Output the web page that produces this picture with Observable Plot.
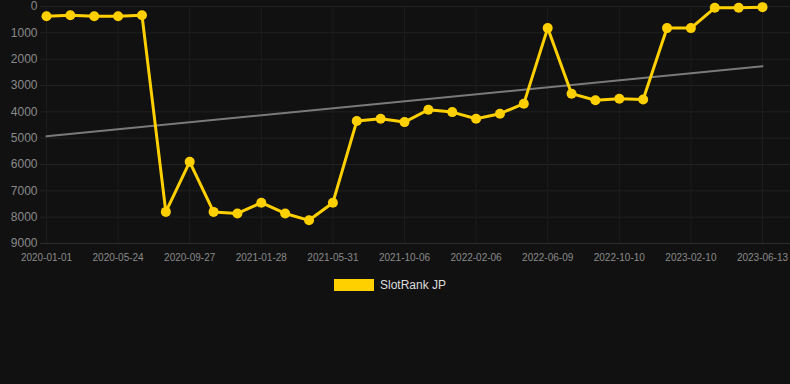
<!DOCTYPE html>
<html>
<head>
<meta charset="utf-8">
<script src="https://cdn.jsdelivr.net/npm/d3@7"></script>
<script src="https://cdn.jsdelivr.net/npm/@observablehq/plot@0.6"></script>
<style>
  html, body { margin: 0; padding: 0; background: #111111; width: 790px; height: 384px; overflow: hidden; }
  #chart svg { display: block; }
  .legend { display: flex; justify-content: center; align-items: center; margin-top: 8px; padding-right: 10px; font-family: Arial, "Liberation Sans", sans-serif; font-size: 12px; color: #dddddd; }
  .legend .sw { width: 40px; height: 12px; background: #FFD000; margin-right: 6px; }
</style>
</head>
<body>
<div id="chart"></div>
<div class="legend"><span class="sw"></span><span>SlotRank JP</span></div>
<script>
const tickLabels = ["2020-01-01","2020-05-24","2020-09-27","2021-01-28","2021-05-31","2021-10-06","2022-02-06","2022-06-09","2022-10-10","2023-02-10","2023-06-13"];
const rankValues = [370,330,370,370,330,7800,5900,7800,7860,7450,7860,8120,7450,4350,4260,4390,3920,4010,4260,4070,3690,820,3310,3560,3500,3530,820,820,50,50,25];
const trendValues = [4930, 2270];
const seriesName = "SlotRank JP";

const data = rankValues.map((v, i) => ({i, v}));
const trend = [{i: 0, v: trendValues[0]}, {i: rankValues.length - 1, v: trendValues[1]}];
const tickIdx = tickLabels.map((_, k) => k * 3);
const yTicks = d3.range(0, 9001, 1000);

const chart = Plot.plot({
  width: 790,
  height: 270,
  marginLeft: 40,
  marginRight: 0,
  marginTop: 6,
  marginBottom: 27,
  style: {background: "#111111", color: "#8a8a8a", fontFamily: "Arial, 'Liberation Sans', sans-serif"},
  x: {domain: [0, rankValues.length - 1], range: [46, 762], ticks: tickIdx, tickFormat: d => tickLabels[d / 3], tickSize: 0, tickPadding: 10, label: null},
  y: {domain: [0, 9000], reverse: true, ticks: yTicks, tickSize: 0, tickPadding: 3, label: null},
  marks: [
    Plot.gridY(yTicks.slice(0, -1), {stroke: "#222222", strokeOpacity: 1, strokeWidth: 1}),
    Plot.gridY([9000], {stroke: "#2c2c2c", strokeOpacity: 1, strokeWidth: 1}),
    Plot.gridX(tickIdx, {stroke: "#1d1d1d", strokeOpacity: 1, strokeWidth: 1}),
    Plot.axisY({ticks: yTicks, tickSize: 0, tickPadding: 3, fontSize: 12, fill: "#8a8a8a", tickFormat: d => String(d)}),
    Plot.axisX({ticks: tickIdx, tickFormat: d => tickLabels[d / 3], tickSize: 0, tickPadding: 10, fontSize: 10, fill: "#8a8a8a"}),
    Plot.line(trend, {x: "i", y: "v", stroke: "#7a7a7a", strokeWidth: 2}),
    Plot.line(data, {x: "i", y: "v", stroke: "#FFD000", strokeWidth: 3}),
    Plot.dot(data, {x: "i", y: "v", r: 5, fill: "#FFD000", stroke: "none"})
  ]
});
document.getElementById("chart").appendChild(chart);
</script>
</body>
</html>
